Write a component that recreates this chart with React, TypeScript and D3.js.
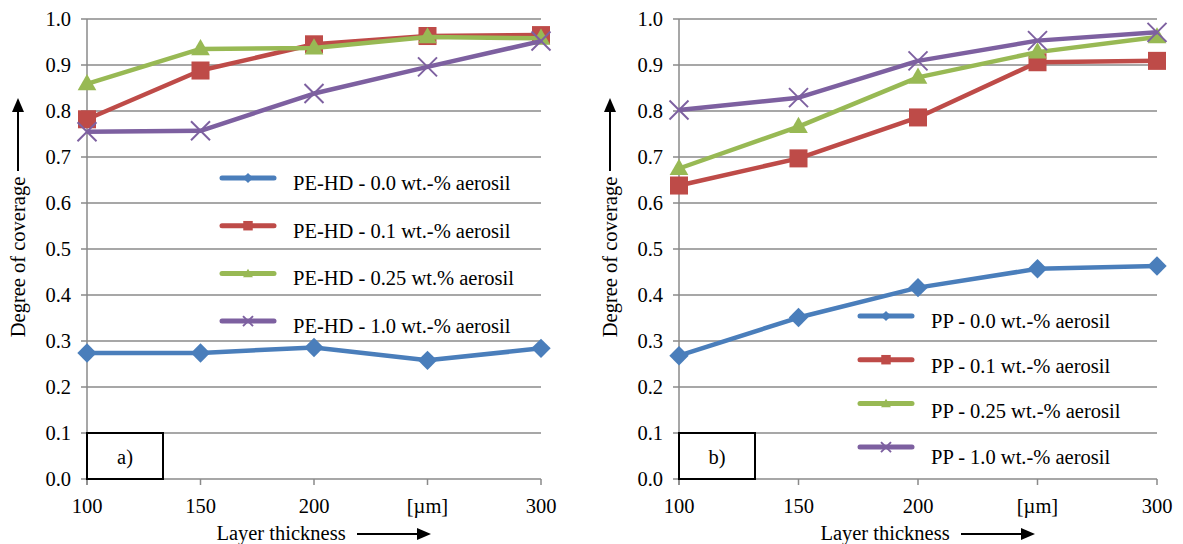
import React from 'react'
import * as d3 from 'd3'

// layer thickness in µm, the 250 tick is labelled with the unit
const thickness = [100, 150, 200, 250, 300]
const xTickLabels = ['100', '150', '200', '[µm]', '300']
const yTickValues = [0, 0.1, 0.2, 0.3, 0.4, 0.5, 0.6, 0.7, 0.8, 0.9, 1.0]

// a) PE-HD
const peHdLabels = [
    'PE-HD - 0.0 wt.-% aerosil',
    'PE-HD - 0.1 wt.-% aerosil',
    'PE-HD - 0.25 wt.% aerosil',
    'PE-HD - 1.0 wt.-% aerosil',
]
const peHd00 = [0.274, 0.274, 0.286, 0.258, 0.284]
const peHd01 = [0.782, 0.888, 0.945, 0.963, 0.965]
const peHd025 = [0.859, 0.935, 0.937, 0.961, 0.958]
const peHd10 = [0.755, 0.757, 0.838, 0.896, 0.952]

// b) PP
const ppLabels = [
    'PP - 0.0 wt.-% aerosil',
    'PP - 0.1 wt.-% aerosil',
    'PP - 0.25 wt.-% aerosil',
    'PP - 1.0 wt.-% aerosil',
]
const pp00 = [0.268, 0.351, 0.416, 0.457, 0.463]
const pp01 = [0.638, 0.697, 0.786, 0.906, 0.909]
const pp025 = [0.675, 0.766, 0.873, 0.928, 0.961]
const pp10 = [0.802, 0.829, 0.909, 0.953, 0.971]

const colors = ['#4A7EBB', '#BE4B48', '#98B954', '#7D60A0']
const markers = ['diamond', 'square', 'triangle', 'x']

const FONT = "'Liberation Serif', 'Times New Roman', Times, serif"
const GRID = '#8a8a8a'
const TXT = { fontFamily: FONT, fontSize: '20.5px' }

const Marker = ({ type, x, y, color, s }) => {
    if (type === 'diamond') {
        const p = d3.symbol(d3.symbolSquare, s * s * 0.52)()
        return <path d={p} transform={`translate(${x},${y}) rotate(45)`} fill={color} />
    }
    if (type === 'square') {
        return <path d={d3.symbol(d3.symbolSquare, s * s * 0.9)()} transform={`translate(${x},${y})`} fill={color} />
    }
    if (type === 'triangle') {
        return <path d={d3.symbol(d3.symbolTriangle, s * s * 0.42)()} transform={`translate(${x},${y + 1})`} fill={color} />
    }
    const h = s / 2
    return (
        <g stroke={color} strokeWidth={2}>
            <line x1={x - h} y1={y - h} x2={x + h} y2={y + h} />
            <line x1={x - h} y1={y + h} x2={x + h} y2={y - h} />
        </g>
    )
}

const Panel = ({ left, right, top, bottom, series, labels, legend, tag }) => {
    const x = d3.scaleLinear().domain([100, 300]).range([left, right])
    const y = d3.scaleLinear().domain([0, 1]).range([bottom, top])

    const line = d3.line()
        .x((d, i) => x(thickness[i]))
        .y(d => y(d))

    const mid = (left + right) / 2

    return (
        <g fill="#000">
            {/* grid */}
            {yTickValues.map(t => (
                <g key={t}>
                    {t > 0 && <line x1={left} x2={right} y1={y(t)} y2={y(t)} stroke={GRID} strokeWidth={1.5} />}
                    <line x1={left - 6} x2={left} y1={y(t)} y2={y(t)} stroke={GRID} strokeWidth={1.5} />
                    <text x={left - 16} y={y(t)} textAnchor="end" dominantBaseline="central" style={TXT}>{t.toFixed(1)}</text>
                </g>
            ))}
            {/* axes */}
            <line x1={left} x2={left} y1={top} y2={bottom + 6} stroke={GRID} strokeWidth={1.5} />
            <line x1={left} x2={right} y1={bottom} y2={bottom} stroke={GRID} strokeWidth={1.5} />
            {thickness.map((t, i) => (
                <g key={t}>
                    <line x1={x(t)} x2={x(t)} y1={bottom} y2={bottom + 6} stroke={GRID} strokeWidth={1.5} />
                    <text x={x(t)} y={bottom + 34} textAnchor="middle" style={TXT}>{xTickLabels[i]}</text>
                </g>
            ))}

            {/* tag box */}
            <rect x={left} y={y(0.1)} width={76} height={y(0) - y(0.1)} fill="#fff" stroke="#000" strokeWidth={2} />
            <text x={left + 38} y={(y(0.1) + y(0)) / 2 + 1} textAnchor="middle" dominantBaseline="central" style={TXT}>{tag}</text>

            {/* legend */}
            {labels.map((lab, i) => {
                const ly = legend.y + i * legend.step
                return (
                    <g key={lab}>
                        <line x1={legend.x} x2={legend.x + 52} y1={ly} y2={ly} stroke={colors[i]} strokeWidth={5} strokeLinecap="round" />
                        <Marker type={markers[i]} x={legend.x + 26} y={ly} color={colors[i]} s={10} />
                        <text x={legend.x + 71} y={ly + legend.dy + i * legend.ddy} dominantBaseline="central" style={TXT}>{lab}</text>
                    </g>
                )
            })}

            {/* series */}
            {series.map((vals, i) => (
                <g key={i}>
                    <path d={line(vals)} fill="none" stroke={colors[i]} strokeWidth={4.5} strokeLinejoin="round" />
                    {vals.map((v, j) => (
                        <Marker key={j} type={markers[i]} x={x(thickness[j])} y={y(v)} color={colors[i]} s={19} />
                    ))}
                </g>
            ))}

            {/* y title */}
            <text transform={`translate(${left - 69},257) rotate(-90)`} textAnchor="middle" dominantBaseline="central" style={TXT}>Degree of coverage</text>
            <line x1={left - 69} x2={left - 69} y1={171} y2={110} stroke="#000" strokeWidth={2} />
            <path d={`M${left - 69},98 L${left - 75},112 L${left - 63},112 Z`} fill="#000" />

            {/* x title */}
            <text x={mid - 33} y={533} textAnchor="middle" dominantBaseline="central" style={TXT}>Layer thickness</text>
            <line x1={mid + 43} x2={mid + 104} y1={534} y2={534} stroke="#000" strokeWidth={2} />
            <path d={`M${mid + 117},534 L${mid + 103},528 L${mid + 103},540 Z`} fill="#000" />
        </g>
    )
}

const App = () => {
    return (
        <div style={{ position: 'absolute', left: 0, top: 0 }}>
            <svg width={1183} height={544} style={{ display: 'block', background: '#fff', fontFamily: FONT }}>
                <Panel
                    left={87} right={541} top={19} bottom={479}
                    series={[peHd00, peHd01, peHd025, peHd10]}
                    labels={peHdLabels}
                    legend={{ x: 222, y: 178, step: 47.7, dy: 5, ddy: 0 }}
                    tag="a)"
                />
                <Panel
                    left={679} right={1157} top={19} bottom={479}
                    series={[pp00, pp01, pp025, pp10]}
                    labels={ppLabels}
                    legend={{ x: 860, y: 316, step: 43.7, dy: 5, ddy: 1.5 }}
                    tag="b)"
                />
            </svg>
        </div>
    )
}

export default App
